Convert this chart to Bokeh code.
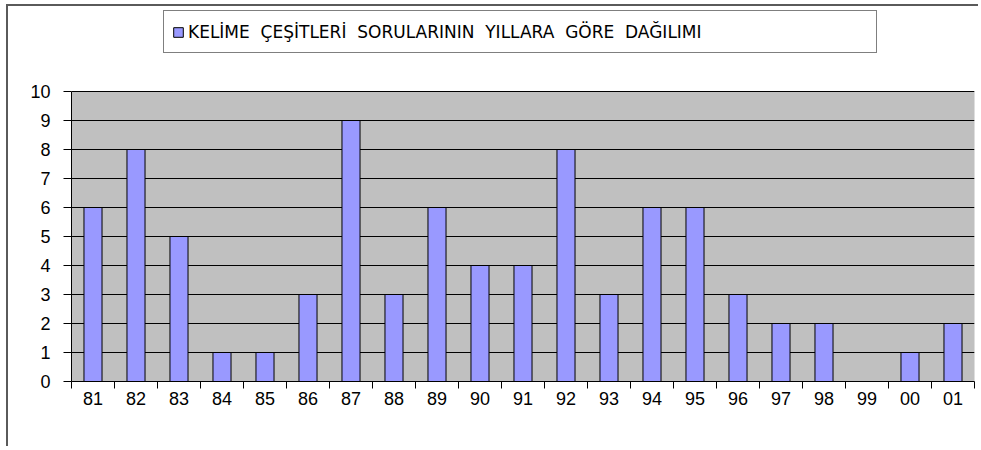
from bokeh.plotting import figure
from bokeh.models import (ColumnDataSource, Range1d, FixedTicker, Legend, LegendItem,
                          BoxAnnotation)
from bokeh.embed import file_html
from bokeh.resources import INLINE

years = ["81", "82", "83", "84", "85", "86", "87", "88", "89", "90", "91",
         "92", "93", "94", "95", "96", "97", "98", "99", "00", "01"]
counts = [6, 8, 5, 1, 1, 3, 9, 3, 6, 4, 4, 8, 3, 6, 6, 3, 2, 2, 0, 1, 2]
y_ticks = list(range(0, 11))
y_max = 10
series_label = "KELİME  ÇEŞİTLERİ  SORULARININ  YILLARA  GÖRE  DAĞILIMI"

n = len(years)
centers = [i + 0.5 for i in range(n)]
source = ColumnDataSource(dict(x=centers, top=counts, year=years))

W, H = 972, 442
TOP, BOTTOM = 4, 67          # canvas borders
plot_top_px = 85             # canvas y of value 10
unit_px = (H - BOTTOM - plot_top_px) / y_max
y_end = y_max + (plot_top_px - TOP) / unit_px

p = figure(width=W, height=H, output_backend="svg", toolbar_location=None,
           x_range=Range1d(0, n), y_range=Range1d(0, y_end),
           min_border_left=63, min_border_right=6, min_border_top=TOP,
           min_border_bottom=BOTTOM, background_fill_color="white",
           border_fill_color="white", outline_line_color=None)
p.styles = {"margin-left": "6px", "margin-top": "4px",
            "border-top": "2px solid #5a5a5a", "border-left": "2px solid #5a5a5a"}

p.add_layout(BoxAnnotation(left=0, right=n, bottom=0, top=y_max,
                           fill_color="#C0C0C0", fill_alpha=1,
                           line_color="#808080", line_width=1, level="image"))

r = p.vbar(x="x", top="top", width=0.42, bottom=0, source=source,
           fill_color="#9999FF", line_color="black", line_width=1)

# axes
p.xaxis.ticker = FixedTicker(ticks=centers, minor_ticks=list(range(n + 1)))
p.xaxis.major_label_overrides = {c: y for c, y in zip(centers, years)}
p.xaxis.major_tick_out = 0
p.xaxis.major_tick_in = 0
p.xaxis.minor_tick_out = 7
p.xaxis.minor_tick_in = 0
p.xaxis.minor_tick_line_color = "black"
p.xaxis.major_label_standoff = 3

p.yaxis.ticker = FixedTicker(ticks=y_ticks)
p.yaxis.bounds = (0, y_max)
p.yaxis.major_tick_out = 8
p.yaxis.major_tick_in = 0
p.yaxis.minor_tick_line_color = None
p.yaxis.major_label_standoff = 13

for ax in (p.xaxis[0], p.yaxis[0]):
    ax.axis_line_color = "black"
    ax.major_tick_line_color = "black"
    ax.major_label_text_font = "Liberation Sans"
    ax.major_label_text_font_size = "18px"
    ax.major_label_text_color = "black"

p.xgrid.grid_line_color = None
p.ygrid.grid_line_color = "black"
p.ygrid.grid_line_alpha = 1
p.ygrid.ticker = FixedTicker(ticks=y_ticks)

legend = Legend(items=[LegendItem(label=series_label, renderers=[r])],
                location=(92, 328), orientation="horizontal",
                border_line_color="black", border_line_width=1.5,
                background_fill_color="white", background_fill_alpha=1,
                label_text_font="DejaVu Sans", label_text_font_size="17px",
                label_text_color="black", glyph_width=12, glyph_height=12,
                label_standoff=4, padding=8, margin=0, spacing=0,
                label_width=680, label_height=25)
p.add_layout(legend, "center")

open("out.html", "w").write(file_html(p, INLINE))
